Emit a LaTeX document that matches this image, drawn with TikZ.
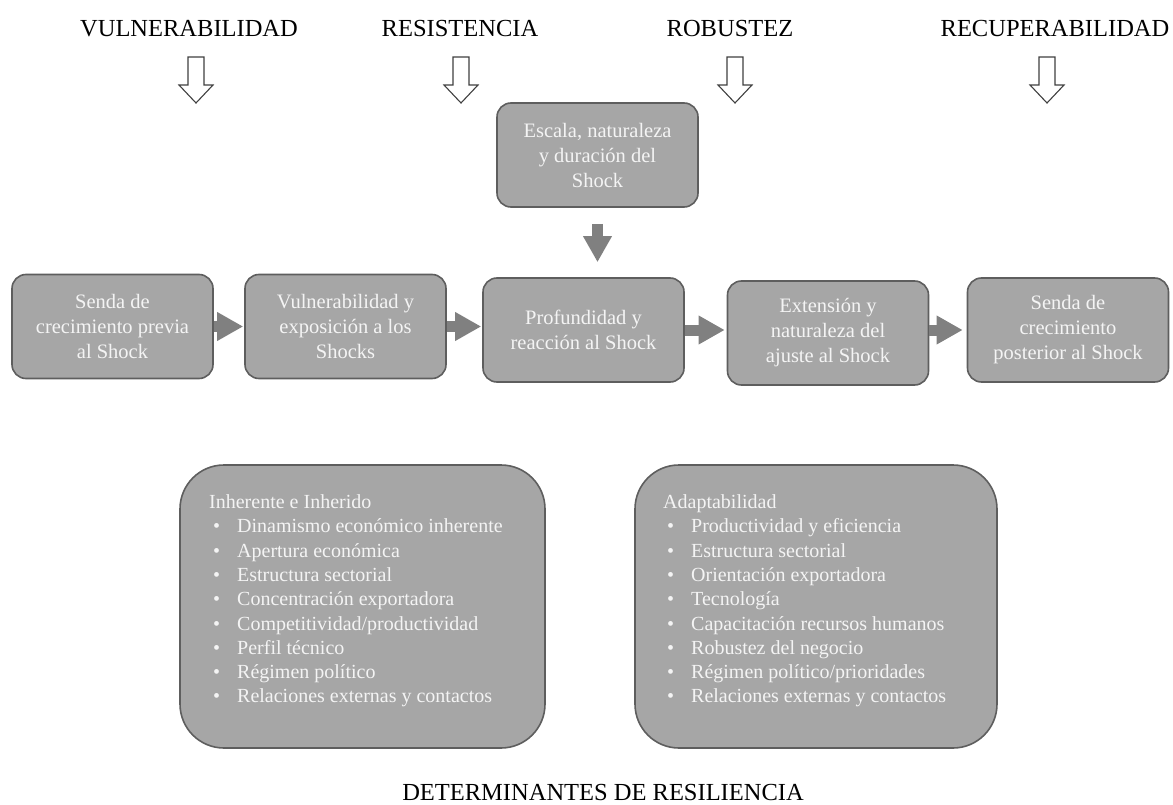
\documentclass[tikz,border=0pt]{standalone}
\usepackage{fontspec}
\setmainfont{Liberation Serif}
\usetikzlibrary{arrows.meta}

\definecolor{boxfill}{HTML}{A6A6A6}
\definecolor{boxline}{HTML}{5E5E5E}
\definecolor{flowgray}{HTML}{808080}
\definecolor{boxtext}{HTML}{F4F4F4}

% bullet followed by the item text, used in the two factor lists
\newcommand\bulletitem{\hspace*{4pt}\makebox[24pt][l]{•}}

\begin{document}
\begin{tikzpicture}[x=1pt,y=-1pt,
  stage/.style={draw=boxline, line width=1.6pt, fill=boxfill,
    rounded corners=14pt, minimum width=201pt, minimum height=104pt,
    align=center, text=boxtext, inner sep=0pt,
    font=\fontsize{20.5}{25}\selectfont},
  factorbox/.style={draw=boxline, line width=1.6pt, fill=boxfill,
    rounded corners=44pt, inner sep=0pt, minimum height=283pt},
  factortext/.style={align=left, text=boxtext, inner sep=0pt,
    anchor=north west, font=\fontsize{20}{24.3}\selectfont},
  heading/.style={inner sep=0pt, anchor=base,
    font=\fontsize{24.5}{28}\selectfont},
  flow/.style={draw=flowgray, line width=11pt,
    -{Triangle[length=26pt,width=27pt]}},
  hollowdown/.pic={
    \draw[line width=1.1pt, draw=black!75, fill=white]
      (-8,0) -- (8,0) -- (8,28) -- (17,28) -- (0,46) -- (-17,28)
      -- (-8,28) -- cycle;}
]
\useasboundingbox (0,0) rectangle (1173,805);
\fill[white] (0,0) rectangle (1173,805);

% headings over the process
\node[heading] (vul) at (189,37) {VULNERABILIDAD};
\node[heading] (res) at (460,37) {RESISTENCIA};
\node[heading] (rob) at (730,37) {ROBUSTEZ};
\node[heading] (rec) at (1055,37) {RECUPERABILIDAD};

\pic at (196,57) {hollowdown};
\pic at (461,57) {hollowdown};
\pic at (735,57) {hollowdown};
\pic at (1047,57) {hollowdown};

% shock and process stages
\node[stage] (esc) at (597.5,155) {Escala, naturaleza\\y duración del\\Shock};
\node[stage] (b1) at (112.5,326.5) {Senda de\\crecimiento previa\\al Shock};
\node[stage] (b2) at (345.5,326.5) {Vulnerabilidad y\\exposición a los\\Shocks};
\node[stage] (b3) at (583.5,330) {Profundidad y\\reacción al Shock};
\node[stage] (b4) at (828,333) {Extensión y\\naturaleza del\\ajuste al Shock};
\node[stage] (b5) at (1068,330) {Senda de\\crecimiento\\posterior al Shock};

\draw[flow, shorten <=16pt, shorten >=15pt] (esc.south) -- (esc.south |- b3.north);
\draw[flow, shorten >=1pt] (b1.east) -- (b2.west);
\draw[flow, shorten >=1pt] (b2.east) -- (b2.east -| b3.west);
\draw[flow, shorten >=2pt] (b3.east) -- (b3.east -| b4.west);
\draw[flow, shorten >=4pt] (b5.west -| b4.east) -- (b5.west);

% determinants of resilience
\node[factorbox, minimum width=365pt] (inh) at (362.5,606.5) {};
\node[factorbox, minimum width=362pt] (ada) at (816,606.5) {};

\node[factortext] (inhlist) at (209,494.5) {Inherente e Inherido\\
\bulletitem Dinamismo económico inherente\\
\bulletitem Apertura económica\\
\bulletitem Estructura sectorial\\
\bulletitem Concentración exportadora\\
\bulletitem Competitividad/productividad\\
\bulletitem Perfil técnico\\
\bulletitem Régimen político\\
\bulletitem Relaciones externas y contactos};

\node[factortext] (adalist) at (663,494.5) {Adaptabilidad\\
\bulletitem Productividad y eficiencia\\
\bulletitem Estructura sectorial\\
\bulletitem Orientación exportadora\\
\bulletitem Tecnología\\
\bulletitem Capacitación recursos humanos\\
\bulletitem Robustez del negocio\\
\bulletitem Régimen político/prioridades\\
\bulletitem Relaciones externas y contactos};

\node[heading] (det) at (603,800) {DETERMINANTES DE RESILIENCIA};
\end{tikzpicture}
\end{document}
